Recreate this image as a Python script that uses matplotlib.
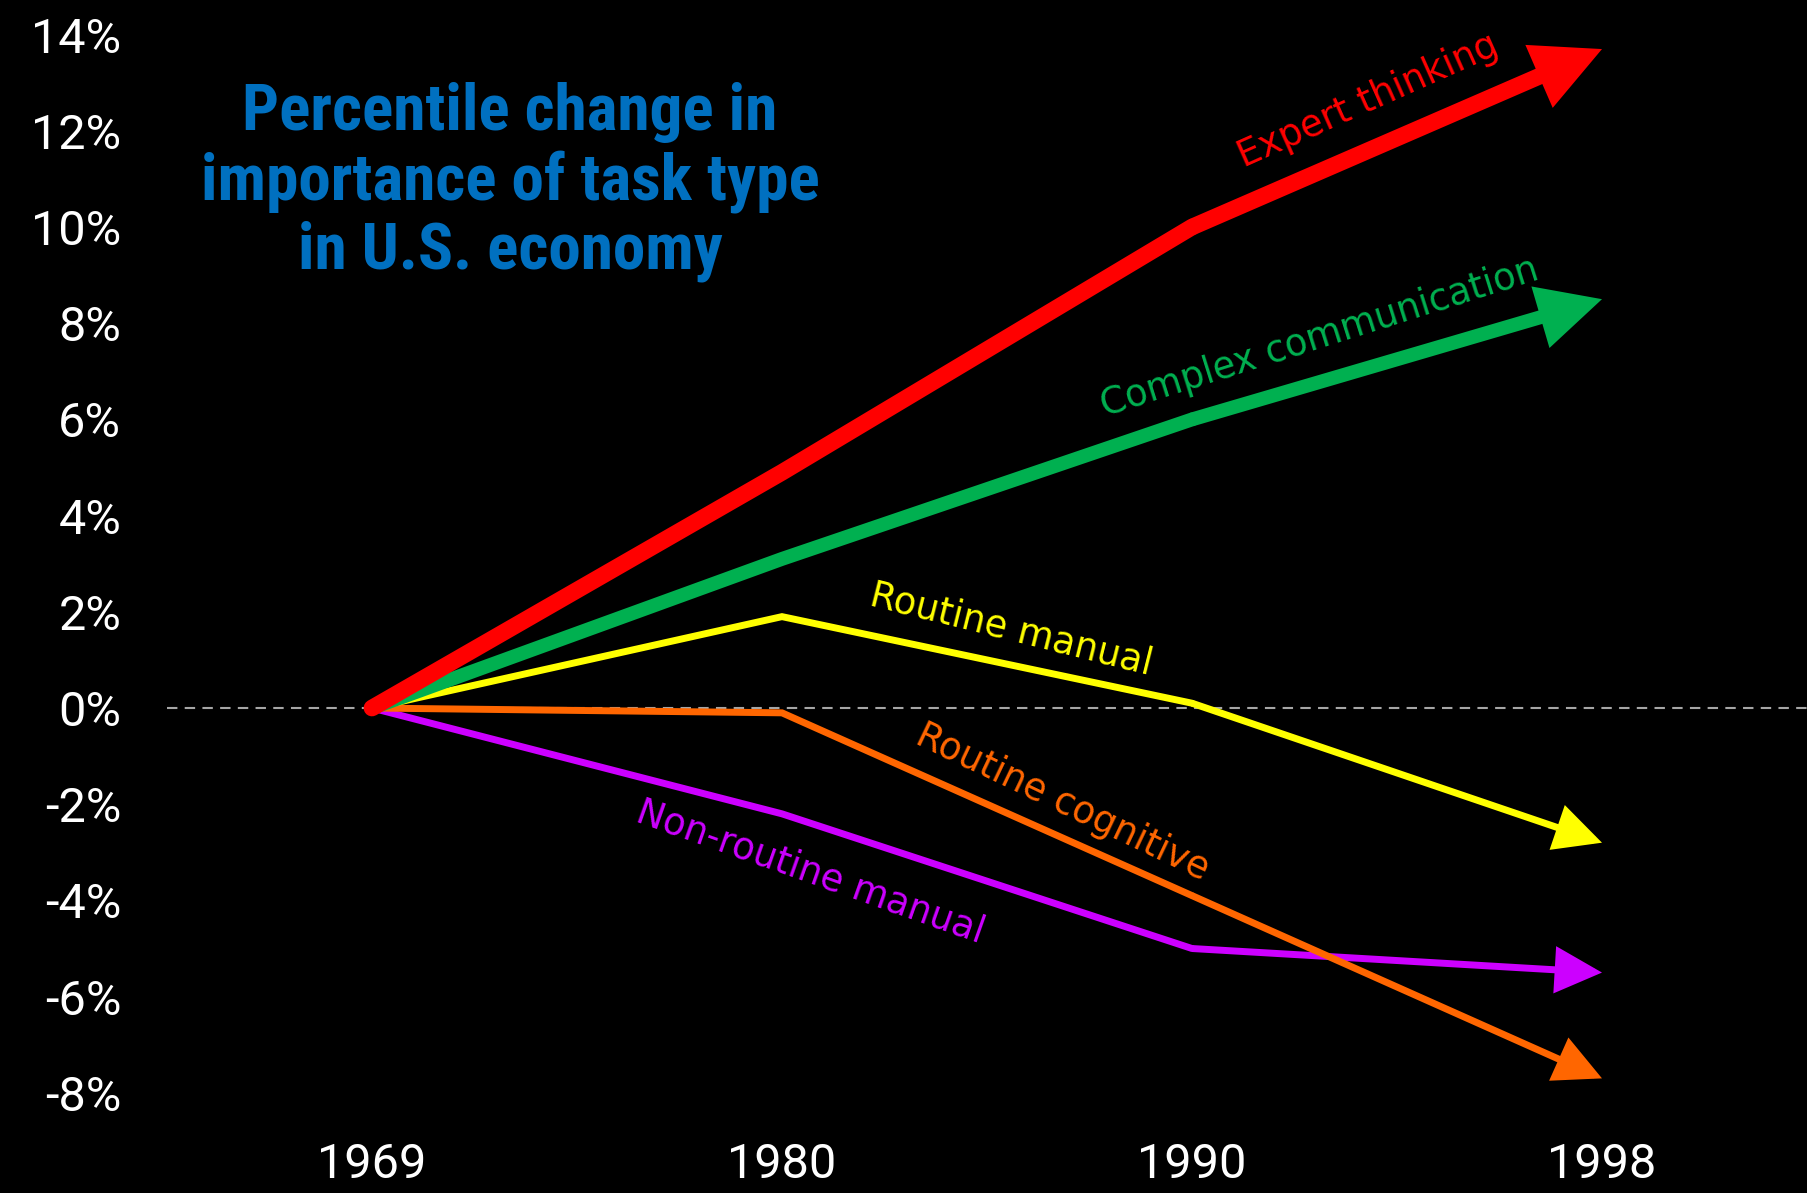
import matplotlib
matplotlib.use("Agg")
import matplotlib.pyplot as plt
from matplotlib import font_manager as fm

years = ["1969", "1980", "1990", "1998"]
expert_thinking = [0, 4.9, 10.0, 13.7]
complex_communication = [0, 3.1, 6.0, 8.5]
routine_manual = [0, 1.9, 0.1, -2.8]
routine_cognitive = [0, -0.1, -3.9, -7.7]
nonroutine_manual = [0, -2.2, -5.0, -5.5]
y_ticks = [14, 12, 10, 8, 6, 4, 2, 0, -2, -4, -6, -8]
y_tick_labels = ["14%", "12%", "10%", "8%", "6%", "4%", "2%", "0%", "-2%", "-4%", "-6%", "-8%"]
title_text = "Percentile change in\nimportance of task type\nin U.S. economy"

installed = {f.name for f in fm.fontManager.ttflist}
title_family = "Roboto Condensed" if "Roboto Condensed" in installed else "DejaVu Sans"
title_stretch = "normal" if title_family == "Roboto Condensed" else "condensed"
tick_family = "Roboto" if "Roboto" in installed else "DejaVu Sans"

fig = plt.figure(figsize=(18.07, 11.93), dpi=100, facecolor="black")
ax = fig.add_axes([0.0924, 0.061, 0.9076, 0.939])
ax.set_facecolor("black")
for s in ax.spines.values():
    s.set_visible(False)

x = list(range(len(years)))

series = [
    ("Non-routine manual", nonroutine_manual, "#CC00FF", 5, 2.6, 1.3),
    ("Routine cognitive", routine_cognitive, "#FF6600", 5, 2.6, 1.3),
    ("Routine manual", routine_manual, "#FFFF00", 5, 2.6, 1.3),
    ("Complex communication", complex_communication, "#00B050", 10, 3.0, 1.5),
    ("Expert thinking", expert_thinking, "#FF0000", 12, 3.0, 1.5),
]

ax.axhline(0, color="#A6A6A6", lw=1.5, dashes=(5, 3.5), zorder=1)

for i, (name, vals, col, lw, hl, hw) in enumerate(series):
    ax.plot(x[:3], vals[:3], color=col, lw=lw, solid_capstyle="round",
            solid_joinstyle="miter", zorder=3 + i)
    ax.annotate("", xy=(x[3], vals[3]), xytext=(x[2], vals[2]),
                arrowprops=dict(arrowstyle=f"-|>,head_length={hl},head_width={hw}",
                                mutation_scale=10, lw=lw, color=col,
                                shrinkA=0, shrinkB=0, joinstyle="miter",
                                capstyle="butt"),
                zorder=3 + i)

label_font = dict(family="DejaVu Sans", fontsize=26.5, ha="center", va="center",
                  rotation_mode="anchor")
ax.text(2.43, 12.62, "Expert thinking", color="#FF0000", rotation=24, **label_font)
ax.text(2.31, 7.71, "Complex communication", color="#00B050", rotation=17.5, **label_font)
ax.text(1.56, 1.64, "Routine manual", color="#FFFF00", rotation=-14, **label_font)
ax.text(1.685, -1.95, "Routine cognitive", color="#FF6600", rotation=-25.5, **label_font)
ax.text(1.07, -3.41, "Non-routine manual", color="#CC00FF", rotation=-19.5, **label_font)

ax.set_xlim(-0.5, 3.5)
ax.set_ylim(-8.57, 14.72)
ax.set_xticks(x)
ax.set_xticklabels(years)
ax.set_yticks(y_ticks)
ax.set_yticklabels(y_tick_labels)
ax.tick_params(axis="both", length=0, colors="white")
ax.tick_params(axis="y", pad=33)
ax.tick_params(axis="x", pad=16)
for lab in ax.get_xticklabels() + ax.get_yticklabels():
    lab.set_family(tick_family)
    lab.set_fontsize(35)

fig.text(510 / 1807, 1 - 182 / 1193, title_text, color="#0070C0",
         family=title_family, stretch=title_stretch,
         fontweight="bold", fontsize=47,
         ha="center", va="center", linespacing=1.15)

fig.savefig("out.png", dpi=100, facecolor="black")
